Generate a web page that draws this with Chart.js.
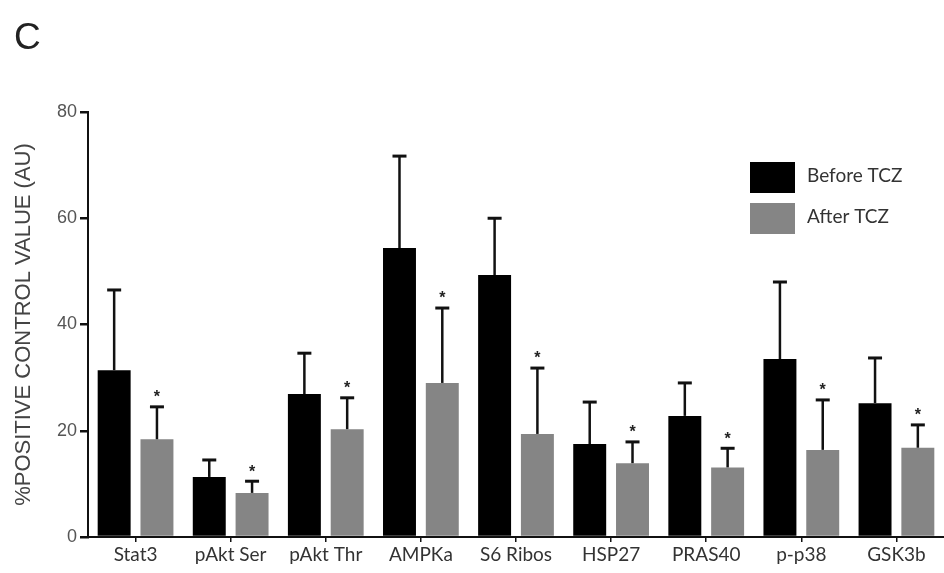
<!DOCTYPE html>
<html>
<head>
<meta charset="utf-8">
<script src="https://cdn.jsdelivr.net/npm/chart.js@4.4.1/dist/chart.umd.min.js"></script>
<style>
html,body{margin:0;padding:0;background:#fff;}
#wrap{width:944px;height:573px;position:relative;}
</style>
</head>
<body>
<div id="wrap"><canvas id="c" width="944" height="573"></canvas></div>
<script>
const categories = ['Stat3','pAkt Ser','pAkt Thr','AMPKa','S6 Ribos','HSP27','PRAS40','p-p38','GSK3b'];
const beforeTCZ = [31.4, 11.3, 26.9, 54.4, 49.3, 17.5, 22.8, 33.5, 25.2];
const beforeSD  = [15.1, 3.2, 7.7, 17.3, 10.7, 7.9, 6.2, 14.5, 8.5];
const afterTCZ  = [18.4, 8.3, 20.3, 29.0, 19.4, 13.9, 13.1, 16.4, 16.8];
const afterSD   = [6.1, 2.2, 5.9, 14.1, 12.4, 4.0, 3.6, 9.4, 4.3];
const afterSignificant = [true, true, true, true, true, true, true, true, true];
const yTicks = [0, 20, 40, 60, 80];
const seriesNames = ['Before TCZ', 'After TCZ'];
const seriesColors = ['#000000', '#858585'];
const panelLetter = 'C';
const yTitle = '%POSITIVE CONTROL VALUE (AU)';

const sds = [beforeSD, afterSD];
const sig = [null, afterSignificant];

const errorBars = {
  id: 'errorBars',
  afterDatasetsDraw(chart) {
    const ctx = chart.ctx;
    const y = chart.scales.y;
    chart.data.datasets.forEach((ds, di) => {
      const meta = chart.getDatasetMeta(di);
      meta.data.forEach((bar, i) => {
        const top = y.getPixelForValue(ds.data[i] + sds[di][i]);
        ctx.save();
        ctx.strokeStyle = '#111';
        ctx.lineWidth = 2.5;
        ctx.beginPath();
        ctx.moveTo(bar.x, bar.y);
        ctx.lineTo(bar.x, top);
        ctx.stroke();
        ctx.lineWidth = 3;
        ctx.beginPath();
        ctx.moveTo(bar.x - 7, top);
        ctx.lineTo(bar.x + 7, top);
        ctx.stroke();
        if (sig[di] && sig[di][i]) {
          ctx.fillStyle = '#222';
          ctx.font = 'bold 16px "Liberation Sans", Arial, sans-serif';
          ctx.textAlign = 'center';
          ctx.textBaseline = 'middle';
          ctx.fillText('*', bar.x, top - 9);
        }
        ctx.restore();
      });
    });
  }
};

const decor = {
  id: 'decor',
  afterDraw(chart) {
    const ctx = chart.ctx;
    const area = chart.chartArea;
    ctx.save();
    ctx.fillStyle = '#222';
    ctx.font = '37px "Liberation Sans", Arial, sans-serif';
    ctx.textAlign = 'left';
    ctx.textBaseline = 'top';
    ctx.fillText(panelLetter, 14, 20);
    // legend
    const lx = area.right - 194;
    const ly = area.top + 50;
    seriesNames.forEach((name, k) => {
      const yy = ly + k * 41;
      ctx.fillStyle = seriesColors[k];
      ctx.fillRect(lx, yy, 45, 31);
      ctx.fillStyle = '#333';
      ctx.font = '19px Lato, "Open Sans", sans-serif';
      ctx.textBaseline = 'middle';
      ctx.fillText(name, lx + 57, yy + 14);
    });
    ctx.restore();
  }
};

new Chart(document.getElementById('c'), {
  type: 'bar',
  data: {
    labels: categories,
    datasets: [
      { label: seriesNames[0], data: beforeTCZ, backgroundColor: seriesColors[0], categoryPercentage: 0.9, barPercentage: 0.77 },
      { label: seriesNames[1], data: afterTCZ, backgroundColor: seriesColors[1], categoryPercentage: 0.9, barPercentage: 0.77 }
    ]
  },
  options: {
    responsive: false,
    animation: false,
    layout: { padding: { top: 112, right: 0, bottom: 0, left: 0 } },
    plugins: { legend: { display: false }, tooltip: { enabled: false }, title: { display: false } },
    scales: {
      x: {
        afterFit(s) { s.height = 36; },
        grid: { display: true, drawOnChartArea: false, drawTicks: true, tickLength: 5, offset: false, color: '#111', lineWidth: 1.5 },
        border: { display: true, color: '#111', width: 2 },
        ticks: { autoSkip: false, maxRotation: 0, minRotation: 0, padding: 1, color: '#333', font: { family: 'Lato, "Open Sans", sans-serif', size: 19 } }
      },
      y: {
        min: 0, max: 80,
        afterFit(s) { s.width = 88; },
        afterBuildTicks(s) { s.ticks = yTicks.map(v => ({ value: v })); },
        grid: { display: true, drawOnChartArea: false, drawTicks: true, tickLength: 8, color: '#111', lineWidth: 2.5 },
        border: { display: true, color: '#111', width: 2 },
        ticks: { padding: 3, color: '#555', font: { family: '"Liberation Sans", Arial, sans-serif', size: 18 } },
        title: { display: true, text: yTitle, color: '#444', padding: { top: 11, bottom: 0 }, font: { family: '"Liberation Sans", Arial, sans-serif', size: 22 } }
      }
    }
  },
  plugins: [errorBars, decor]
});
</script>
</body>
</html>
